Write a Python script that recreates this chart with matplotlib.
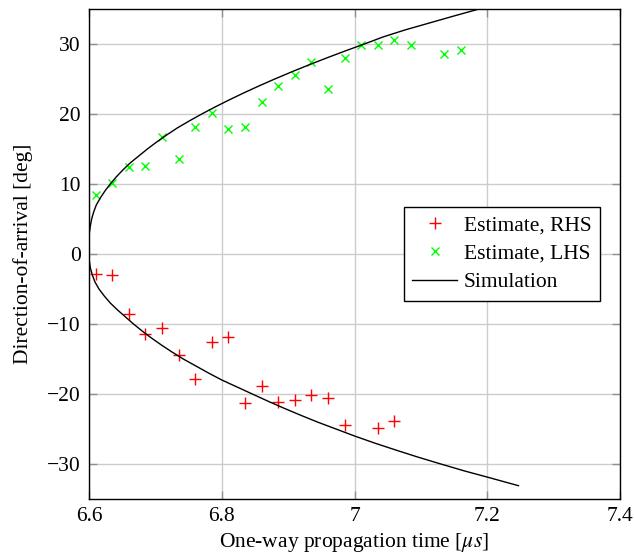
import matplotlib
matplotlib.use('Agg')
import matplotlib.pyplot as plt
from matplotlib.ticker import FuncFormatter

plt.rcParams['font.family'] = ['Liberation Serif', 'DejaVu Serif']
plt.rcParams['mathtext.fontset'] = 'stix'
plt.rcParams['font.size'] = 15.5

# Estimates (one-way propagation time in us, DOA in deg)
t_rhs = [6.61, 6.635, 6.66, 6.685, 6.71, 6.735, 6.76, 6.785, 6.81, 6.835,
         6.86, 6.885, 6.91, 6.935, 6.96, 6.985, 7.035, 7.06]
doa_rhs = [-2.9, -3.0, -8.6, -11.5, -10.6, -14.4, -17.9, -12.6, -11.8, -21.3,
           -18.8, -21.2, -20.9, -20.2, -20.6, -24.4, -24.9, -23.9]

t_lhs = [6.61, 6.635, 6.66, 6.685, 6.71, 6.735, 6.76, 6.785, 6.81, 6.835,
         6.86, 6.885, 6.91, 6.935, 6.96, 6.985, 7.01, 7.035, 7.06, 7.085,
         7.135, 7.16]
doa_lhs = [8.4, 10.1, 12.4, 12.5, 16.7, 13.5, 18.2, 20.1, 17.9, 18.1,
           21.7, 24.0, 25.6, 27.4, 23.5, 28.0, 29.9, 29.8, 30.6, 29.9,
           28.6, 29.1]

# Simulation curve
doa_sim = [-33.1, -32, -31, -30, -29, -28, -27, -26, -25, -24,
           -23, -22, -21, -20, -19, -18, -17, -16, -15, -14,
           -13, -12, -11, -10, -9, -8, -7, -6, -5, -4,
           -3, -2, -1, 0, 1, 2, 3, 4, 5, 6,
           7, 8, 9, 10, 11, 12, 13, 14, 15, 16,
           17, 18, 19, 20, 21, 22, 23, 24, 25, 26,
           27, 28, 29, 30, 31, 32, 33, 34, 35]
t_sim = [7.247, 7.205, 7.166, 7.130, 7.095, 7.062, 7.030, 7.000, 6.972, 6.944,
         6.918, 6.893, 6.869, 6.846, 6.823, 6.800, 6.780, 6.761, 6.742, 6.725,
         6.709, 6.694, 6.680, 6.667, 6.655, 6.643, 6.632, 6.623, 6.615, 6.609,
         6.605, 6.602, 6.6005, 6.6, 6.6, 6.6, 6.6005, 6.602, 6.604, 6.607,
         6.611, 6.617, 6.624, 6.632, 6.641, 6.651, 6.662, 6.675, 6.688, 6.702,
         6.717, 6.733, 6.751, 6.770, 6.790, 6.811, 6.833, 6.856, 6.880, 6.905,
         6.931, 6.958, 6.986, 7.015, 7.043, 7.076, 7.113, 7.150, 7.188]

fig = plt.figure(figsize=(6.34, 5.52), dpi=100)
ax = fig.add_axes([0.1404, 0.096, 0.8376, 0.8878])

ax.plot(t_rhs, doa_rhs, '+', color='#ff0000', ms=8, mew=1.0, label='Estimate, RHS')
ax.plot(t_lhs, doa_lhs, 'x', color='#00ff00', ms=6, mew=1.0, label='Estimate, LHS')
ax.plot(t_sim, doa_sim, '-', color='black', lw=1.0, label='Simulation')

ax.set_xlim(6.6, 7.4)
ax.set_ylim(-35, 35)
ax.set_xticks([6.6, 6.8, 7.0, 7.2, 7.4])
ax.set_yticks([-30, -20, -10, 0, 10, 20, 30])
ax.xaxis.set_major_formatter(FuncFormatter(lambda v, p: '%g' % v))
ax.yaxis.set_major_formatter(FuncFormatter(lambda v, p: '%g' % v if v >= 0 else '\u2212%g' % -v))
ax.grid(True, color='#cccccc', lw=1.0)
ax.set_axisbelow(True)
ax.tick_params(direction='in', length=6, width=1, color='#909090',
               top=True, right=True, pad=6)
for s in ax.spines.values():
    s.set_linewidth(1.0)

ax.set_xlabel(r'One-way propagation time [$\mu s$]', labelpad=3)
ax.set_ylabel('Direction-of-arrival [deg]', labelpad=10)

leg = ax.legend(loc='center right', bbox_to_anchor=(0.962, 0.5),
                borderaxespad=0, fancybox=False, edgecolor='black', framealpha=1,
                handlelength=2.08, handletextpad=0.3, borderpad=0.4,
                labelspacing=0.39)
leg.get_frame().set_linewidth(1.0)

fig.savefig('out.png', dpi=100)
